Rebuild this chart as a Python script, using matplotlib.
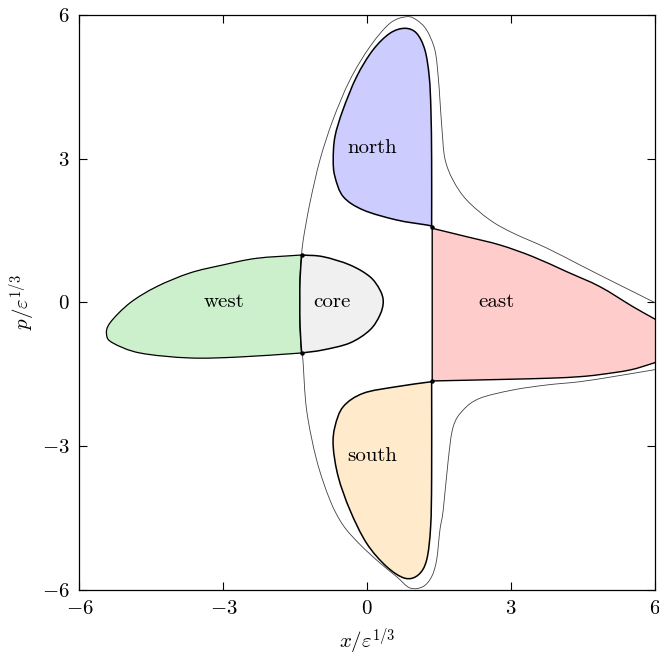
import matplotlib
matplotlib.use("Agg")
import matplotlib.pyplot as plt
import numpy as np
from matplotlib.path import Path
from matplotlib.patches import PathPatch

plt.rcParams["font.family"] = "serif"
plt.rcParams["font.serif"] = ["cmr10"]
plt.rcParams["mathtext.fontset"] = "cm"
plt.rcParams["axes.formatter.use_mathtext"] = True

# ---- region boundaries in (x, p) phase-space coordinates ----
core_x = [-1.368, -0.924, -0.361, 0.056, 0.265, 0.334, 0.265, 0.056, -0.361, -0.924, -1.368,
          -1.40, -1.405, -1.40]
core_p = [0.991, 0.956, 0.783, 0.538, 0.261, 0.017, -0.261, -0.574, -0.845, -0.991, -1.054,
          -0.5, 0.0, 0.5]
core_corners = [0, 10]

west_x = [-1.368, -2.306, -3.009, -3.697, -4.391, -4.948, -5.365, -5.434, -5.303, -4.740,
          -3.697, -2.654, -1.368, -1.40, -1.405, -1.40]
west_p = [0.991, 0.922, 0.783, 0.616, 0.330, -0.010, -0.428, -0.678, -0.845, -1.054,
          -1.158, -1.137, -1.054, -0.5, 0.0, 0.5]
west_corners = [0, 12]

east_x = [1.355, 2.073, 2.767, 3.455, 4.158, 4.852, 5.540, 5.957, 6.40, 6.40,
          5.957, 5.477, 4.852, 4.435, 3.809, 2.767, 1.355]
east_p = [1.548, 1.373, 1.200, 0.956, 0.643, 0.330, -0.088, -0.323, -0.58, -1.12,
          -1.269, -1.409, -1.505, -1.548, -1.580, -1.607, -1.638]
east_corners = [0, 8, 9, 16]

north_x = [1.343, 1.343, 1.328, 1.293, 1.203, 1.030, 0.786, 0.473, 0.119, -0.221, -0.507,
           -0.673, -0.709, -0.673, -0.500, -0.083, 0.613, 1.239]
north_p = [1.596, 2.974, 4.017, 4.712, 5.269, 5.618, 5.722, 5.618, 5.269, 4.712, 4.017,
           3.460, 2.974, 2.625, 2.208, 1.930, 1.722, 1.617]
north_corners = [0]

south_x = [1.343, 0.613, -0.083, -0.500, -0.673, -0.709, -0.605, -0.361, -0.013, 0.405,
           0.786, 1.063, 1.239, 1.322, 1.343]
south_p = [-1.653, -1.757, -1.895, -2.174, -2.592, -3.009, -3.635, -4.330, -5.025, -5.513,
           -5.755, -5.687, -5.374, -4.679, -3.635]
south_corners = [0]

# outer trajectories leaving the corners of the core
upper_x = [-1.368, -1.335, -1.195, -0.986, -0.715, -0.361, 0.056, 0.473, 0.822, 1.030,
           1.238, 1.411, 1.480, 1.516, 1.560, 1.620, 1.787, 2.073, 2.558, 3.038, 3.741,
           4.435, 5.123, 5.957, 6.30]
upper_p = [0.991, 1.304, 2.076, 2.974, 3.809, 4.643, 5.338, 5.826, 5.964, 5.895,
           5.687, 5.269, 4.712, 4.226, 3.600, 3.000, 2.557, 2.139, 1.722, 1.450, 1.137,
           0.783, 0.434, 0.017, -0.17]

lower_x = [-1.368, -1.341, -1.264, -1.055, -0.778, -0.507, -0.152, 0.265, 0.613, 0.890,
           1.161, 1.343, 1.447, 1.516, 1.585, 1.689, 1.793, 2.002, 2.350, 3.038, 3.741,
           4.435, 5.123, 5.957, 6.30]
lower_p = [-1.054, -1.200, -2.243, -3.287, -4.121, -4.643, -5.050, -5.436, -5.722, -5.958,
           -5.931, -5.722, -5.374, -4.747, -4.330, -3.287, -2.592, -2.243, -1.999, -1.826,
           -1.722, -1.653, -1.548, -1.409, -1.35]

# hyperbolic points where the separatrices cross
xpt_x = [-1.368, -1.368, 1.35, 1.35]
xpt_p = [0.991, -1.054, 1.57, -1.645]

labels = ["core", "west", "east", "north", "south"]
label_x = [-0.73, -2.99, 2.70, 0.10, 0.10]
label_p = [0.0, 0.0, 0.0, 3.22, -3.20]

ticks = [-6, -3, 0, 3, 6]


def smooth_path(xs, ps, closed, corners=()):
    """Cubic Bezier path passing through every vertex (Catmull-Rom handles)."""
    pts = np.column_stack([xs, ps]).astype(float)
    n = len(pts)
    corners = set(corners)

    def nb(i):
        if closed:
            return pts[(i - 1) % n], pts[(i + 1) % n]
        return pts[max(i - 1, 0)], pts[min(i + 1, n - 1)]

    verts = [pts[0]]
    codes = [Path.MOVETO]
    nseg = n if closed else n - 1
    for i in range(nseg):
        a = pts[i]
        j = (i + 1) % n
        b = pts[j]
        if i in corners or (not closed and i == 0):
            c1 = a + (b - a) / 3.0
        else:
            prev, nxt = nb(i)
            c1 = a + (nxt - prev) / 6.0
        if j in corners or (not closed and j == n - 1):
            c2 = b - (b - a) / 3.0
        else:
            prev, nxt = nb(j)
            c2 = b - (nxt - prev) / 6.0
        verts += [c1, c2, b]
        codes += [Path.CURVE4] * 3
    if closed:
        verts.append(pts[0])
        codes.append(Path.CLOSEPOLY)
    return Path(verts, codes)


fig = plt.figure(figsize=(6.59, 6.60), dpi=100)
ax = fig.add_axes([0.1206, 0.1061, 0.8733, 0.8712])

regions = [
    (west_x, west_p, west_corners, "#ccf0cc", 0.9),
    (core_x, core_p, core_corners, "#f0f0f0", 1.1),
    (east_x, east_p, east_corners, "#ffcccc", 1.0),
    (north_x, north_p, north_corners, "#ccccff", 1.1),
    (south_x, south_p, south_corners, "#ffebcc", 1.1),
]
for xs, ps, cs, fc, lw in regions:
    ax.add_patch(PathPatch(smooth_path(xs, ps, True, cs), facecolor=fc,
                           edgecolor="black", lw=lw, zorder=2))

for xs, ps in [(upper_x, upper_p), (lower_x, lower_p)]:
    ax.add_patch(PathPatch(smooth_path(xs, ps, False), facecolor="none",
                           edgecolor="0.25", lw=0.6, zorder=3))

ax.plot(xpt_x, xpt_p, "o", color="black", ms=2.2, zorder=4)

for name, lx, lp in zip(labels, label_x, label_p):
    ax.text(lx, lp, name, ha="center", va="center", fontsize=15, zorder=4)

ax.set_xlim(-6, 6)
ax.set_ylim(-6, 6)
ax.set_xticks(ticks)
ax.set_yticks(ticks)
ax.tick_params(direction="in", length=6, width=0.8, top=True, right=True,
               labelsize=15, pad=7)
for s in ax.spines.values():
    s.set_linewidth(0.9)
ax.set_xlabel(r"$x/\varepsilon^{1/3}$", fontsize=15, labelpad=6)
ax.set_ylabel(r"$p/\varepsilon^{1/3}$", fontsize=15, labelpad=4)

fig.savefig("out.png", dpi=100)
